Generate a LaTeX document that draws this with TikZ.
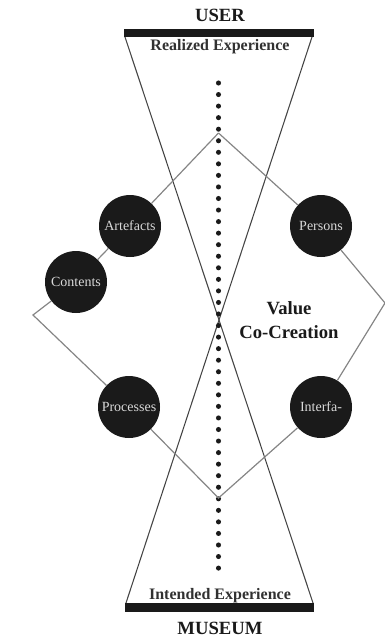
\documentclass[tikz,border=0pt]{standalone}
\usepackage{fontspec}
\setmainfont{Liberation Serif}
\definecolor{ink}{HTML}{1A1A1A}
\definecolor{edgegray}{HTML}{858585}
\definecolor{conegray}{HTML}{444444}
\tikzset{
  disc/.style={circle,fill=ink,minimum size=46.5pt,inner sep=0pt,text=white!85!black,font=\fontsize{10.5}{12}\selectfont},
  bigtitle/.style={text=ink,font=\fontsize{14}{18}\bfseries\selectfont},
  subtitle/.style={text=ink!90!white,font=\fontsize{12}{14}\bfseries\selectfont},
  link/.style={edgegray,line width=0.9pt},
  cone/.style={conegray,line width=0.8pt}
}

\begin{document}
\begin{tikzpicture}[x=0.75pt,y=-0.75pt]
\useasboundingbox (0,0) rectangle (385,639);
% hourglass
\coordinate (tl) at (125,37);
\coordinate (tr) at (312,37);
\coordinate (bl) at (126,603);
\coordinate (br) at (313,603);
\draw[cone] (tl)--(br);
\draw[cone] (tr)--(bl);
\fill[ink] (124,29) rectangle (314,37);
\fill[ink] (125,603) rectangle (314,612);
\node[bigtitle] (user) at (220,15) {USER};
\node[bigtitle] (museum) at (220,628) {MUSEUM};
\node[subtitle] (realized) at (220,47) {Realized Experience};
\node[subtitle] (intended) at (220,596) {Intended Experience};
% dotted axis
\foreach \i in {0,...,42}
  \fill[ink] (218.5,83+\i*11.55) circle (1.9pt);
% value diamond
\coordinate (vtop) at (218.5,133);
\coordinate (vbot) at (218.5,498);
\coordinate (vleft) at (33,315);
\coordinate (vright) at (385,303);
\node[disc] (art) at (130,226) {Artefacts};
\node[disc] (cont) at (76,282) {Contents};
\node[disc] (proc) at (129,407) {Processes};
\node[disc] (pers) at (321,226) {Persons};
\node[disc] (inter) at (321,407) {Interfa-};
\draw[link] (vtop)--(art);
\draw[link] (art)--(cont);
\draw[link] (cont)--(vleft)--(proc);
\draw[link] (proc)--(vbot)--(inter);
\draw[link] (inter)--(vright)--(pers);
\draw[link] (pers)--(vtop);
\node[bigtitle,align=center] (value) at (289,320) {Value\\Co-Creation};
\end{tikzpicture}
\end{document}
